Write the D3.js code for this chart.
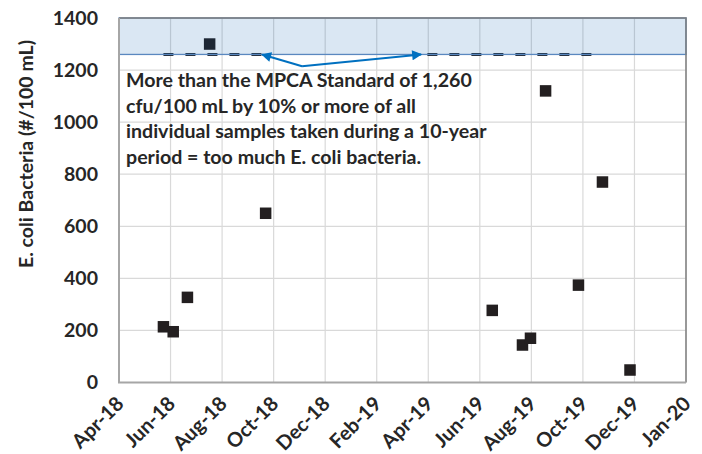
<!DOCTYPE html>
<html>
<head>
<meta charset="utf-8">
<script src="https://cdn.jsdelivr.net/npm/d3@7"></script>
<style>
  body { margin: 0; background: #fff; }
  text { font-family: Lato, "Open Sans", sans-serif; font-weight: bold; fill: #262626; }
</style>
</head>
<body>
<script>
// sample data
var sampleDates = ["2018-06-19", "2018-06-30", "2018-07-16", "2018-08-10", "2018-10-12",
                   "2019-06-24", "2019-07-28", "2019-08-06", "2019-08-23", "2019-09-29",
                   "2019-10-26", "2019-11-26"];
var ecoli = [214, 195, 327, 1300, 650, 277, 144, 170, 1120, 374, 770, 48];

// MPCA standard segments (start, end)
var standardValue = 1260;
var standardSegments = [["2018-06-19", "2018-10-09"], ["2019-04-12", "2019-10-19"]];

var xTickLabels = ["Apr-18", "Jun-18", "Aug-18", "Oct-18", "Dec-18", "Feb-19",
                   "Apr-19", "Jun-19", "Aug-19", "Oct-19", "Dec-19", "Jan-20"];
var yTicks = [0, 200, 400, 600, 800, 1000, 1200, 1400];

var noteLines = ["More than the MPCA Standard of 1,260",
                 "cfu/100 mL by 10% or more of all",
                 "individual samples taken during a 10-year",
                 "period = too much E. coli bacteria."];
// arrow callout: vertex and the two targets
var arrowFrom = ["2018-11-22", 1215];
var arrowTo = [["2018-10-08", 1260], ["2019-04-05", 1260]];

var width = 702, height = 454;
var margin = {left: 119, right: 16, top: 18, bottom: 71.5};

var parse = d3.timeParse("%Y-%m-%d");
var xMin = parse("2018-04-30"), xMax = parse("2020-01-28");
var tickStep = 58; // days between labels

var x = d3.scaleTime()
    .domain([xMin, xMax])
    .range([margin.left, width - margin.right]);
var y = d3.scaleLinear()
    .domain([0, 1400])
    .range([height - margin.bottom, margin.top]);

var svg = d3.select("body").append("svg")
    .attr("width", width)
    .attr("height", height);

var defs = svg.append("defs");
defs.append("marker")
    .attr("id", "head")
    .attr("viewBox", "0 0 10 10")
    .attr("refX", 9).attr("refY", 5)
    .attr("markerWidth", 5.5).attr("markerHeight", 5)
    .attr("markerUnits", "strokeWidth")
    .attr("orient", "auto")
  .append("path")
    .attr("d", "M0,0L10,5L0,10z")
    .attr("fill", "#0070c0");

var tickDates = xTickLabels.map(function(d, i) { return d3.timeDay.offset(xMin, i * tickStep); });

// gridlines
svg.append("g").selectAll("line")
    .data(yTicks.slice(1))
    .enter().append("line")
      .attr("x1", margin.left).attr("x2", width - margin.right)
      .attr("y1", function(d) { return y(d); }).attr("y2", function(d) { return y(d); })
      .attr("stroke", "#d9d9d9").attr("stroke-width", 1.2);
svg.append("g").selectAll("line")
    .data(tickDates.slice(1))
    .enter().append("line")
      .attr("x1", function(d) { return x(d); }).attr("x2", function(d) { return x(d); })
      .attr("y1", y(0)).attr("y2", y(1400))
      .attr("stroke", "#d9d9d9").attr("stroke-width", 1.2);

// standard dashed line
var line = d3.line()
    .x(function(d) { return x(parse(d)); })
    .y(function() { return y(standardValue); });
svg.append("g").selectAll("path")
    .data(standardSegments)
    .enter().append("path")
      .attr("d", line)
      .attr("fill", "none")
      .attr("stroke", "#222a33")
      .attr("stroke-width", 3)
      .attr("stroke-dasharray", "10,12");

// samples
var ms = 11.5;
svg.append("g").selectAll("rect")
    .data(sampleDates)
    .enter().append("rect")
      .attr("x", function(d) { return x(parse(d)) - ms / 2; })
      .attr("y", function(d, i) { return y(ecoli[i]) - ms / 2; })
      .attr("width", ms).attr("height", ms)
      .attr("fill", "#231f20");

// shaded exceedance band
svg.append("rect")
    .attr("x", margin.left).attr("y", y(1400))
    .attr("width", x(xMax) - margin.left)
    .attr("height", y(standardValue) - y(1400))
    .attr("fill", "rgb(0,90,170)").attr("fill-opacity", 0.145)
    .attr("stroke", "#5a88bf").attr("stroke-width", 1.3);

// plot frame
svg.append("path")
    .attr("d", "M" + margin.left + "," + y(1400) + "H" + x(xMax) + "V" + y(0))
    .attr("fill", "none").attr("stroke", "#7f7f7f").attr("stroke-width", 1.5);
svg.append("path")
    .attr("d", "M" + margin.left + "," + y(1400) + "V" + y(0) + "H" + x(xMax))
    .attr("fill", "none").attr("stroke", "#a6a6a6").attr("stroke-width", 2);

// y tick labels
svg.append("g").selectAll("text")
    .data(yTicks)
    .enter().append("text")
      .attr("x", 98)
      .attr("y", function(d) { return y(d); })
      .attr("dy", "0.35em")
      .attr("text-anchor", "end")
      .style("font-size", "19.5px")
      .text(function(d) { return d; });

// x tick labels
svg.append("g").selectAll("text")
    .data(xTickLabels)
    .enter().append("text")
      .attr("transform", function(d, i) { return "translate(" + (x(tickDates[i]) + 6) + "," + 405 + ")rotate(-45)"; })
      .attr("text-anchor", "end")
      .style("font-size", "20px")
      .text(function(d) { return d; });

// y axis title
svg.append("text")
    .attr("transform", "translate(33,154)rotate(-90)")
    .attr("text-anchor", "middle")
    .style("font-size", "19.5px")
    .text("E. coli Bacteria (#/100 mL)");

// callout arrows
arrowTo.forEach(function(t) {
  svg.append("line")
      .attr("x1", x(parse(arrowFrom[0]))).attr("y1", y(arrowFrom[1]))
      .attr("x2", x(parse(t[0]))).attr("y2", y(t[1]))
      .attr("stroke", "#0070c0").attr("stroke-width", 2)
      .attr("marker-end", "url(#head)");
});

// note
svg.append("g").selectAll("text")
    .data(noteLines)
    .enter().append("text")
      .attr("x", 126)
      .attr("y", function(d, i) { return 87 + i * 25.7; })
      .style("font-size", "19.6px")
      .text(function(d) { return d; });
</script>
</body>
</html>
